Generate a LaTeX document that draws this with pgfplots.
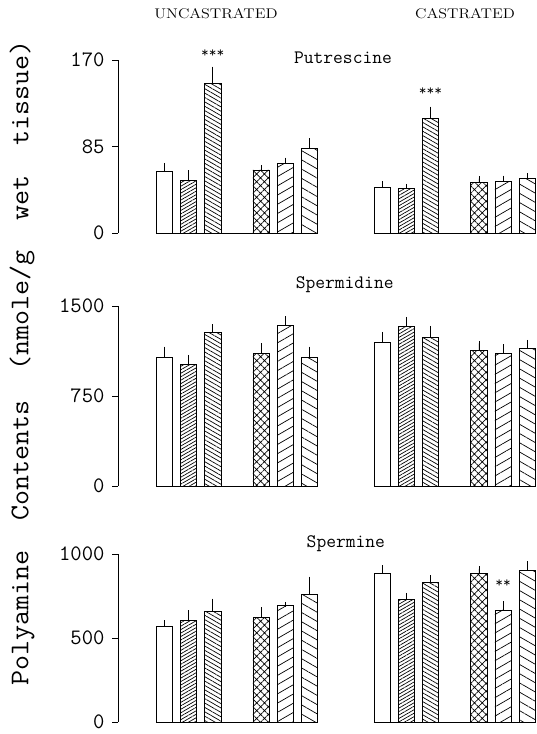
\documentclass[border=0pt]{standalone}
\usepackage{fontspec}
\usepackage{graphicx}
\usepackage{pgfplots}
\pgfplotsset{compat=1.18}
\usetikzlibrary{patterns.meta}

\pgfplotsset{
  panel/.style={
    scale only axis, width=419pt, xmin=-1.92, xmax=15.4, ymin=0,
    axis x line=none, axis y line*=left, clip=false,
    tick align=outside, major tick length=6pt,
    axis line style={line width=0.7pt},
    ytick style={line width=0.7pt, black},
    yticklabel style={font=\ttfamily\fontsize{22}{22}\selectfont,
      inner ysep=1pt, xshift=-4pt},
    anchor=south west,
  },
  hb/.style={
    ybar, bar shift=0pt, bar width=0.68, draw=black, line width=0.8pt, fill=white,
    error bars/y dir=plus, error bars/y explicit,
    error bars/error bar style={line width=0.8pt, black},
    error bars/error mark options={black, line width=0.8pt, mark size=2.5pt},
  },
  pa/.style={hb},
  pb/.style={hb, pattern={Lines[angle=30, distance=3pt, line width=0.7pt]}},
  pc/.style={hb, pattern={Lines[angle=-30, distance=3.8pt, line width=0.7pt]}},
  pd/.style={hb, pattern={Hatch[angle=45, distance=5.5pt, line width=0.7pt]}},
  pe/.style={hb, pattern={Lines[angle=30, distance=8pt, line width=0.7pt]}},
  pf/.style={hb, pattern={Lines[angle=-30, distance=8pt, line width=0.7pt]}},
}
\newcommand{\baselines}{%
  \draw[line width=0.8pt] (axis cs:-0.34,0) -- (axis cs:6.34,0);
  \draw[line width=0.8pt] (axis cs:8.66,0) -- (axis cs:15.34,0);}

\begin{document}
\begin{tikzpicture}
\path[use as bounding box] (0pt,0pt) rectangle (537pt,734pt);

% Putrescine
\begin{axis}[panel, at={(118pt,501pt)}, height=173pt, ymax=170,
    ytick={0,85,170}, yticklabels={0,85,170}]
\addplot[pa] coordinates {(0,61) +- (0,5.5) (9,45.2) +- (0,3.3)};
\addplot[pb] coordinates {(1,52) +- (0,7) (10,44.2) +- (0,1.7)};
\addplot[pc] coordinates {(2,147) +- (0,14) (11,112.6) +- (0,9.2)};
\addplot[pd] coordinates {(4,62) +- (0,2.2) (13,49.4) +- (0,4)};
\addplot[pe] coordinates {(5,68) +- (0,3.6) (14,50.4) +- (0,3.6)};
\addplot[pf] coordinates {(6,83) +- (0,7.5) (15,53.7) +- (0,2.6)};
\baselines
\node[font=\ttfamily\fontsize{15}{15}\selectfont] at (axis cs:2,176) {***};
\node[font=\ttfamily\fontsize{15}{15}\selectfont] at (axis cs:11,139) {***};
\node[font=\ttfamily\fontsize{19}{19}\selectfont] at (axis cs:7.38,172) {Putrescine};
\end{axis}

% Spermidine
\begin{axis}[panel, at={(118pt,248pt)}, height=180pt, ymax=1500,
    ytick={0,750,1500}, yticklabels={0,750,1500}]
\addplot[pa] coordinates {(0,1069) +- (0,72) (9,1194) +- (0,70)};
\addplot[pb] coordinates {(1,1014) +- (0,58) (10,1333) +- (0,56)};
\addplot[pc] coordinates {(2,1278) +- (0,50) (11,1239) +- (0,75)};
\addplot[pd] coordinates {(4,1103) +- (0,64) (13,1128) +- (0,61)};
\addplot[pe] coordinates {(5,1339) +- (0,55) (14,1103) +- (0,58)};
\addplot[pf] coordinates {(6,1072) +- (0,69) (15,1147) +- (0,50)};
\baselines
\node[font=\ttfamily\fontsize{19}{19}\selectfont] at (axis cs:7.45,1675) {Spermidine};
\end{axis}

% Spermine
\begin{axis}[panel, at={(118pt,12pt)}, height=168pt, ymax=1000,
    ytick={0,500,1000}, yticklabels={0,500,1000}]
\addplot[pa] coordinates {(0,567) +- (0,25) (9,884) +- (0,35)};
\addplot[pb] coordinates {(1,605) +- (0,45) (10,732) +- (0,22)};
\addplot[pc] coordinates {(2,657) +- (0,62) (11,833) +- (0,27)};
\addplot[pd] coordinates {(4,620) +- (0,49) (13,886) +- (0,26)};
\addplot[pe] coordinates {(5,695) +- (0,5) (14,667) +- (0,37)};
\addplot[pf] coordinates {(6,760) +- (0,90) (15,901) +- (0,41)};
\baselines
\node[font=\ttfamily\fontsize{15}{15}\selectfont] at (axis cs:14,826) {**};
\node[font=\ttfamily\fontsize{19}{19}\selectfont] at (axis cs:7.5,1062) {Spermine};
\end{axis}

\node[rotate=90, font=\ttfamily\fontsize{27}{27}\selectfont] at (22pt,371pt)
  {\scalebox{1.08}[1]{Polyamine~~Contents~~(nmole/g~~wet~~tissue)}};
\node[font=\fontsize{14}{14}\selectfont] at (216pt,720pt)
  {\scalebox{1.15}[1]{UNCASTRATED}};
\node[font=\fontsize{14}{14}\selectfont] at (465pt,720pt)
  {\scalebox{1.15}[1]{CASTRATED}};
\end{tikzpicture}
\end{document}
